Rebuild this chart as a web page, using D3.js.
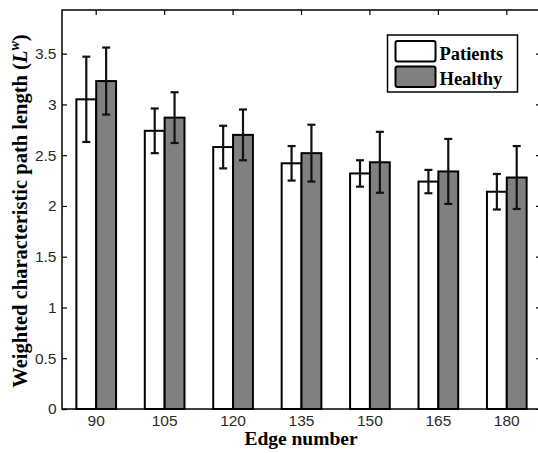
<!DOCTYPE html>
<html>
<head>
<meta charset="utf-8">
<script src="https://cdn.jsdelivr.net/npm/d3@7"></script>
<style>
  body { margin: 0; background: #fff; }
  svg { display: block; }
</style>
</head>
<body>
<div id="chart"></div>
<script>
// data
const edges = ["90", "105", "120", "135", "150", "165", "180"];
const patients = [3.05, 2.74, 2.58, 2.42, 2.32, 2.24, 2.14];
const patientsErr = [0.42, 0.22, 0.21, 0.17, 0.13, 0.115, 0.175];
const healthy = [3.23, 2.87, 2.70, 2.52, 2.43, 2.34, 2.28];
const healthyErr = [0.33, 0.25, 0.25, 0.28, 0.30, 0.32, 0.31];
const yTicks = [0, 0.5, 1, 1.5, 2, 2.5, 3, 3.5];
const seriesNames = ["Patients", "Healthy"];
const seriesFill = ["#ffffff", "#808080"];

const width = 538, height = 453;
const margin = {left: 62, top: 10, right: -3, bottom: 44};
const plotW = width - margin.left - margin.right;
const plotH = height - margin.top - margin.bottom;

const svg = d3.select("#chart").append("svg")
  .attr("width", width)
  .attr("height", height);

const x = d3.scaleBand()
  .domain(edges)
  .range([0, plotW]);

const y = d3.scaleLinear()
  .domain([0, 3.93])
  .range([plotH, 0]);

const barW = x.bandwidth() * 0.29;

const g = svg.append("g")
  .attr("transform", "translate(" + margin.left + "," + margin.top + ")");

// bars
const series = [
  {name: seriesNames[0], vals: patients, err: patientsErr, fill: seriesFill[0], off: -1},
  {name: seriesNames[1], vals: healthy, err: healthyErr, fill: seriesFill[1], off: 0}
];

series.forEach(function(s) {
  const rows = edges.map(function(e, i) { return {e: e, v: s.vals[i], err: s.err[i]}; });
  const cx = function(d) { return x(d.e) + x.bandwidth() / 2 + (s.off + 0.5) * barW; };

  g.selectAll(null)
    .data(rows)
    .enter()
    .append("rect")
    .attr("x", function(d) { return cx(d) - barW / 2; })
    .attr("y", function(d) { return y(d.v); })
    .attr("width", barW)
    .attr("height", function(d) { return y(0) - y(d.v); })
    .attr("fill", s.fill)
    .attr("stroke", "#000")
    .attr("stroke-width", 2);

  const eb = g.selectAll(null)
    .data(rows)
    .enter()
    .append("g")
    .attr("stroke", "#111")
    .attr("stroke-width", 2.2);
  eb.append("line")
    .attr("x1", cx).attr("x2", cx)
    .attr("y1", function(d) { return y(d.v + d.err); })
    .attr("y2", function(d) { return y(d.v - d.err); });
  eb.append("line")
    .attr("x1", function(d) { return cx(d) - 4; })
    .attr("x2", function(d) { return cx(d) + 4; })
    .attr("y1", function(d) { return y(d.v + d.err); })
    .attr("y2", function(d) { return y(d.v + d.err); });
  eb.append("line")
    .attr("x1", function(d) { return cx(d) - 4; })
    .attr("x2", function(d) { return cx(d) + 4; })
    .attr("y1", function(d) { return y(d.v - d.err); })
    .attr("y2", function(d) { return y(d.v - d.err); });
});

// axes (inward ticks like matlab)
const tickFont = function(sel) {
  sel.selectAll("text")
    .attr("font-family", "'Liberation Sans', Arial, sans-serif")
    .attr("font-size", 15.5)
    .attr("fill", "#2a2a2a");
  sel.select(".domain").remove();
  sel.selectAll(".tick line").attr("stroke", "#000").attr("stroke-width", 1.2);
};

g.append("g")
  .attr("transform", "translate(0," + plotH + ")")
  .call(d3.axisBottom(x).tickSize(-5).tickPadding(6))
  .call(tickFont);

g.append("g")
  .call(d3.axisTop(x).tickSize(-5).tickFormat(""))
  .call(tickFont);

g.append("g")
  .call(d3.axisLeft(y).tickValues(yTicks).tickSize(-5).tickPadding(5.5).tickFormat(d3.format("")))
  .call(tickFont);

g.append("g")
  .attr("transform", "translate(" + plotW + ",0)")
  .call(d3.axisRight(y).tickValues(yTicks).tickSize(-5).tickFormat(""))
  .call(tickFont);

// frame
g.append("rect")
  .attr("width", plotW)
  .attr("height", plotH)
  .attr("fill", "none")
  .attr("stroke", "#000")
  .attr("stroke-width", 1.5);

// axis labels
svg.append("text")
  .attr("x", 301)
  .attr("y", 445)
  .attr("text-anchor", "middle")
  .attr("font-family", "'Liberation Serif', 'Times New Roman', serif")
  .attr("font-weight", "bold")
  .attr("font-size", 19.5)
  .text("Edge number");

const yl = svg.append("text")
  .attr("transform", "translate(27,211) rotate(-90)")
  .attr("text-anchor", "middle")
  .attr("font-family", "'Liberation Serif', 'Times New Roman', serif")
  .attr("font-weight", "bold")
  .attr("font-size", 20.5);
yl.append("tspan").text("Weighted characteristic path length (");
yl.append("tspan").attr("font-style", "italic").text("L");
yl.append("tspan").attr("font-style", "italic").attr("font-size", 14).attr("dy", -8).text("w");
yl.append("tspan").attr("dy", 8).text(")");

// legend
const lg = svg.append("g").attr("transform", "translate(387.5,35)");
lg.append("rect")
  .attr("width", 130)
  .attr("height", 57)
  .attr("fill", "#fff")
  .attr("stroke", "#000")
  .attr("stroke-width", 1.5);
series.forEach(function(s, i) {
  lg.append("rect")
    .attr("x", 8)
    .attr("y", 6 + i * 25.5)
    .attr("width", 40)
    .attr("height", 20.5)
    .attr("rx", 2)
    .attr("fill", s.fill)
    .attr("stroke", "#000")
    .attr("stroke-width", 2);
  lg.append("text")
    .attr("x", 52)
    .attr("y", 24.5 + i * 25)
    .attr("font-family", "'Liberation Serif', 'Times New Roman', serif")
    .attr("font-weight", "bold")
    .attr("font-size", 18.5)
    .text(s.name);
});
</script>
</body>
</html>
